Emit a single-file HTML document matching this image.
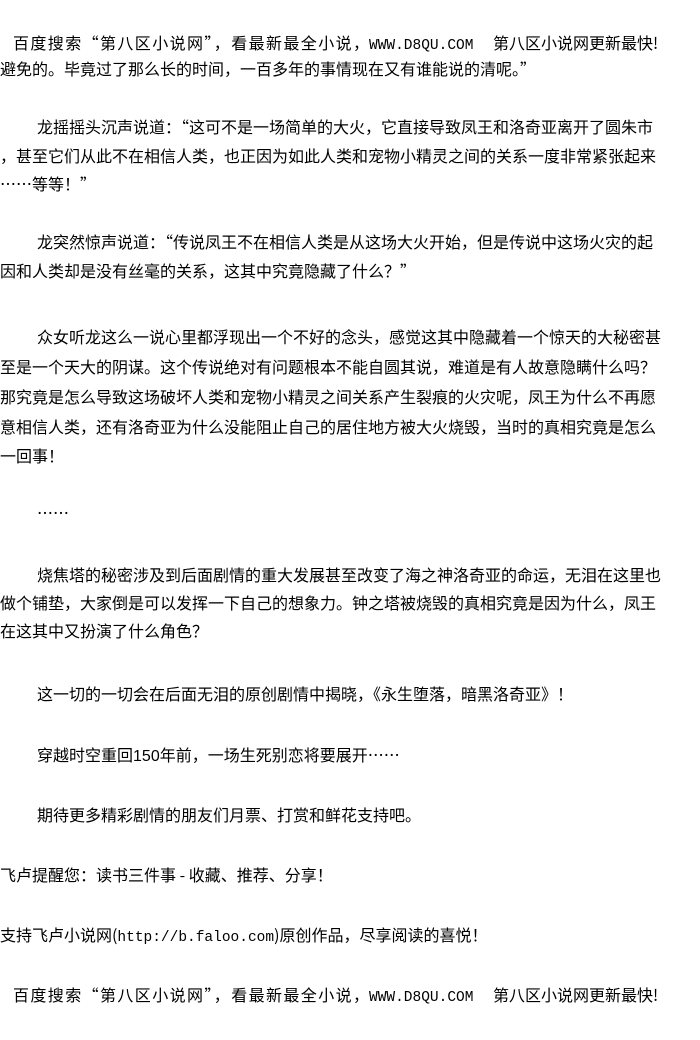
<!DOCTYPE html>
<html><head><meta charset="utf-8"><style>
body{margin:0;width:700px;height:1040px;background:#fff;position:relative;overflow:hidden;}
.l{position:absolute;white-space:nowrap;font-family:"Noto Sans CJK SC","Liberation Sans",sans-serif;font-size:16px;line-height:20px;color:#000;}
.m{font-family:"Liberation Mono",monospace;font-size:14.5px;}
</style></head><body>
<div class="l" style="left:13px;top:32px;letter-spacing:1.4px">百度搜索“第八区小说网”，看最新最全小说，</div>
<div class="l m" style="left:369px;top:36px">WWW.D8QU.COM</div>
<div class="l" style="left:493px;top:32px">第八区小说网更新最快!</div>
<div class="l" style="left:0;top:58px">避免的。毕竟过了那么长的时间，一百多年的事情现在又有谁能说的清呢。”</div>
<div class="l" style="left:37px;top:116px">龙摇摇头沉声说道：“这可不是一场简单的大火，它直接导致凤王和洛奇亚离开了圆朱市</div>
<div class="l" style="left:0;top:145px">，甚至它们从此不在相信人类，也正因为如此人类和宠物小精灵之间的关系一度非常紧张起来</div>
<div class="l" style="left:0;top:173px">……等等！”</div>
<div class="l" style="left:37px;top:231px">龙突然惊声说道：“传说凤王不在相信人类是从这场大火开始，但是传说中这场火灾的起</div>
<div class="l" style="left:0;top:260px">因和人类却是没有丝毫的关系，这其中究竟隐藏了什么？”</div>
<div class="l" style="left:37px;top:326px">众女听龙这么一说心里都浮现出一个不好的念头，感觉这其中隐藏着一个惊天的大秘密甚</div>
<div class="l" style="left:0;top:356px">至是一个天大的阴谋。这个传说绝对有问题根本不能自圆其说，难道是有人故意隐瞒什么吗？</div>
<div class="l" style="left:0;top:386px">那究竟是怎么导致这场破坏人类和宠物小精灵之间关系产生裂痕的火灾呢，凤王为什么不再愿</div>
<div class="l" style="left:0;top:416px">意相信人类，还有洛奇亚为什么没能阻止自己的居住地方被大火烧毁，当时的真相究竟是怎么</div>
<div class="l" style="left:0;top:445px">一回事！</div>
<div class="l" style="left:37px;top:502px">……</div>
<div class="l" style="left:37px;top:564px">烧焦塔的秘密涉及到后面剧情的重大发展甚至改变了海之神洛奇亚的命运，无泪在这里也</div>
<div class="l" style="left:0;top:592px">做个铺垫，大家倒是可以发挥一下自己的想象力。钟之塔被烧毁的真相究竟是因为什么，凤王</div>
<div class="l" style="left:0;top:620px">在这其中又扮演了什么角色？</div>
<div class="l" style="left:37px;top:683px">这一切的一切会在后面无泪的原创剧情中揭晓，《永生堕落，暗黑洛奇亚》！</div>
<div class="l" style="left:37px;top:744px">穿越时空重回<span style="font-family:'Liberation Sans',sans-serif">150</span>年前，一场生死别恋将要展开……</div>
<div class="l" style="left:37px;top:804px">期待更多精彩剧情的朋友们月票、打赏和鲜花支持吧。</div>
<div class="l" style="left:0;top:864px">飞卢提醒您：读书三件事 - 收藏、推荐、分享！</div>
<div class="l" style="left:0;top:924px">支持飞卢小说网(<span class="m">http://b.faloo.com</span>)原创作品，尽享阅读的喜悦！</div>
<div class="l" style="left:13px;top:984px;letter-spacing:1.4px">百度搜索“第八区小说网”，看最新最全小说，</div>
<div class="l m" style="left:369px;top:988px">WWW.D8QU.COM</div>
<div class="l" style="left:493px;top:984px">第八区小说网更新最快!</div>
</body></html>
